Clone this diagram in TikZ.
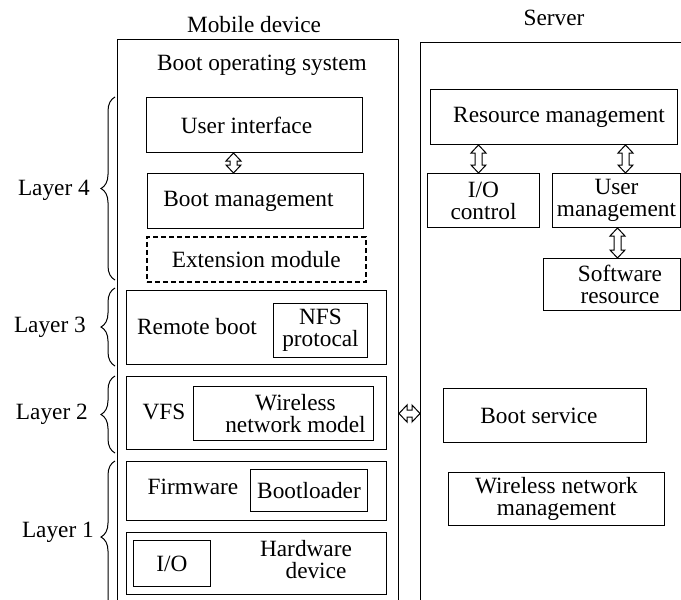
\documentclass[tikz,border=0pt]{standalone}
\usepackage{fontspec}
\setmainfont{Liberation Serif}
\usetikzlibrary{calc,decorations.pathreplacing}
\tikzset{
  every node/.style={font=\fontsize{23.3}{22}\selectfont, inner sep=0pt, align=center},
  box/.style={draw, line width=1pt, anchor=north west},
  dbox/.style={box, dash pattern=on 5pt off 3pt, line width=1.6pt},
  arrowline/.style={draw, line width=1pt, fill=white, line join=miter},
  layerbrace/.style={decorate, decoration={brace, amplitude=14pt}, line width=1pt},
}
\newcommand{\hollowV}[2]{%
  \path[arrowline] let \p1=#1, \p2=#2 in
    (\x1,\y1) -- (\x1+7.5pt,\y1-8pt) -- (\x1+3.5pt,\y1-8pt) -- (\x1+3.5pt,\y2+8pt)
    -- (\x1+7.5pt,\y2+8pt) -- (\x1,\y2) -- (\x1-7.5pt,\y2+8pt) -- (\x1-3.5pt,\y2+8pt)
    -- (\x1-3.5pt,\y1-8pt) -- (\x1-7.5pt,\y1-8pt) -- cycle;}
\newcommand{\hollowH}[2]{%
  \path[arrowline] let \p1=#1, \p2=#2 in
    (\x1,\y1) -- (\x1+8pt,\y1+8.5pt) -- (\x1+8pt,\y1+3.5pt) -- (\x2-8pt,\y1+3.5pt)
    -- (\x2-8pt,\y1+8.5pt) -- (\x2,\y1) -- (\x2-8pt,\y1-8.5pt) -- (\x2-8pt,\y1-3.5pt)
    -- (\x1+8pt,\y1-3.5pt) -- (\x1+8pt,\y1-8.5pt) -- cycle;}
\begin{document}
\begin{tikzpicture}[x=1pt,y=-1pt]
\useasboundingbox (0,0) rectangle (681,600);
\clip (0,0) rectangle (681,600);

% outer containers
\node[box, minimum width=281pt, minimum height=650pt] (mob) at (117,39) {};
\node[box, minimum width=300pt, minimum height=650pt] (srv) at (420,42) {};
\node (mobt) at (254,25) {Mobile device};
\node (srvt) at (554,18) {Server};
\node (bos) at (262,65) {Boot operating system};

% mobile: layer 4
\node[box, minimum width=216pt, minimum height=55pt] (ui) at (146,97) {User interface\hspace*{16pt}};
\node[box, minimum width=216pt, minimum height=55pt] (bm) at (147,173) {Boot management\hspace*{14pt}};
\node[dbox, minimum width=219pt, minimum height=45pt] (ext) at (146,236) {Extension module};

% layer 3
\node[box, minimum width=260pt, minimum height=74pt] (l3) at (126,290) {};
\node (rb) at (197,327) {Remote boot};
\node[box, minimum width=94pt, minimum height=54pt] (nfs) at (273,303) {NFS\\protocal};

% layer 2
\node[box, minimum width=260pt, minimum height=73pt] (l2) at (126,376) {};
\node (vfs) at (164,412) {VFS};
\node[box, minimum width=180pt, minimum height=54pt] (wnmod) at (193,386) {\hspace*{24pt}Wireless\\\hspace*{24pt}network model};

% layer 1
\node[box, minimum width=260pt, minimum height=59pt] (fw) at (126,461) {};
\node (fwt) at (193,487) {Firmware};
\node[box, minimum width=117pt, minimum height=42pt] (bl) at (250,469) {Bootloader};
\node[box, minimum width=260pt, minimum height=62pt] (hw) at (126,532) {};
\node[box, minimum width=77pt, minimum height=46pt] (hio) at (133,540) {I/O};
\node (hwt) at (306,560) {Hardware\\\hspace*{20pt}device};

% server
\node[box, minimum width=247pt, minimum height=55pt] (rm) at (430,89) {\hspace*{10pt}Resource management};
\node[box, minimum width=112pt, minimum height=54pt] (io) at (427,173) {I/O\\control};
\node[box, minimum width=128pt, minimum height=54pt] (um) at (552,173) {User\\management};
\node[box, minimum width=137pt, minimum height=52pt] (sr) at (543,258) {\hspace*{16pt}Software\\\hspace*{16pt}resource};
\node[box, minimum width=203pt, minimum height=54pt] (bs) at (443,388) {Boot service\hspace*{12pt}};
\node[box, minimum width=216pt, minimum height=53pt] (wnm) at (448,472) {Wireless network\\management};

% layer labels and braces
\node[anchor=east] (lay4) at (90,190) {Layer 4};
\node[anchor=east] (lay3) at (86,327) {Layer 3};
\node[anchor=east] (lay2) at (88,414) {Layer 2};
\node[anchor=east] (lay1) at (94,532) {Layer 1};
\draw[layerbrace] (115,280) -- (115,97);
\draw[layerbrace] (115,366) -- (115,288);
\draw[layerbrace] (115,453) -- (115,376);
\draw[layerbrace] (115,613) -- (115,461);

% hollow double arrows
\hollowV{($(ui.south)+(-21,0)$)}{($(bm.north)+(-21,0)$)}
\hollowV{($(rm.south -| io.north)+(-5,0)$)}{($(io.north)+(-5,0)$)}
\hollowV{($(rm.south -| um.north)+(9,0)$)}{($(um.north)+(9,0)$)}
\hollowV{($(um.south)+(1,0)$)}{($(um.south |- sr.north)+(1,0)$)}
\hollowH{($(mob.east |- bs.center)+(0,-2)$)}{($(srv.west |- bs.center)+(0,-2)$)}
\end{tikzpicture}
\end{document}
